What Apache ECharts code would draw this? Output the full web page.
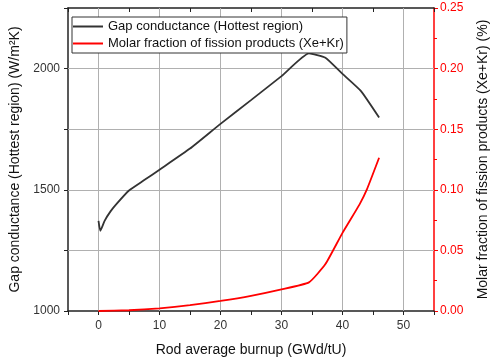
<!DOCTYPE html>
<html>
<head>
<meta charset="utf-8">
<script src="https://cdn.jsdelivr.net/npm/echarts@6/dist/echarts.min.js"></script>
<style>
  html, body { margin: 0; padding: 0; background: #fff; }
  #main { width: 498px; height: 362px; }
</style>
</head>
<body>
<div id="main"></div>
<script>
// gap conductance, hottest region (W/m2K)
var gapBurnup = [0, 0.3, 1, 2, 3, 5, 7.5, 10, 15, 20, 25, 30, 34.5, 37.2, 40, 43, 46];
var gapValue = [1372, 1331, 1372, 1412, 1443, 1497, 1540, 1583, 1670, 1772, 1870, 1969, 2063, 2045, 1978, 1908, 1798];

// molar fraction of fission products Xe+Kr (%)
var fpBurnup = [0, 5, 10, 15, 20, 25, 30, 34.5, 37.2, 40, 42.8, 44, 46];
var fpValue = [0, 0.0006, 0.0022, 0.0048, 0.0083, 0.0125, 0.0178, 0.0236, 0.0387, 0.0645, 0.088, 0.1003, 0.1264];

var xTicks = [0, 10, 20, 30, 40, 50];
var leftTicks = [1000, 1500, 2000];
var leftGrid = [1250, 1500, 1750, 2000];
var xMin = -5, xMax = 55;

var font = "'Liberation Sans', Arial, sans-serif";
var gridColor = '#b0b0b0';

var chart = echarts.init(document.getElementById('main'));

function pairs(xs, ys) {
	var out = [];
	for (var i = 0; i < xs.length; i++) out.push([xs[i], ys[i]]);
	return out;
}

// vertical grid lines at labelled burnup ticks, horizontal every 250
var vLines = [];
for (var k = 0; k < xTicks.length; k++) vLines.push({ xAxis: xTicks[k] });
var hLines = [];
for (var j = 0; j < leftGrid.length; j++) hLines.push({ yAxis: leftGrid[j] });

var option = {
	animation: false,
	textStyle: { fontFamily: font },
	grid: { left: 64, right: 58, top: 8, bottom: 50 },
	legend: {
		left: 72, top: 17,
		orient: 'vertical',
		borderColor: '#333', borderWidth: 1,
		backgroundColor: '#fff',
		padding: [3, 3, 3, 1],
		itemGap: 4,
		itemWidth: 30, itemHeight: 2,
		icon: 'rect',
		z: 10,
		textStyle: { fontSize: 13, color: '#111', fontFamily: font },
		data: ['Gap conductance (Hottest region)', 'Molar fraction of fission products (Xe+Kr)']
	},
	xAxis: [{
		type: 'value', position: 'bottom',
		min: xMin, max: xMax, interval: 5,
		name: 'Rod average burnup (GWd/tU)',
		nameLocation: 'middle', nameGap: 32,
		nameTextStyle: { fontSize: 14, color: '#111' },
		axisLine: { onZero: false, lineStyle: { color: '#222', width: 1.5 } },
		axisTick: { inside: false, length: 4, lineStyle: { color: '#222' } },
		axisLabel: {
			fontSize: 12, color: '#333', margin: 9,
			formatter: function (v) { return xTicks.indexOf(v) >= 0 ? String(v) : ''; }
		},
		splitLine: { show: false }
	}, {
		type: 'value', position: 'top',
		min: xMin, max: xMax, interval: 5,
		axisLine: { onZero: false, lineStyle: { color: '#222', width: 1.5 } },
		axisTick: { inside: true, length: 4, lineStyle: { color: '#222' } },
		axisLabel: { show: false },
		splitLine: { show: false }
	}],
	yAxis: [{
		type: 'value', position: 'left',
		min: 1000, max: 2250, interval: 250,
		name: 'Gap conductance (Hottest region) (W/m²K)',
		nameLocation: 'middle', nameGap: 46,
		nameTextStyle: { fontSize: 14, color: '#111' },
		axisLine: { show: true, onZero: false, lineStyle: { color: '#222', width: 1.5 } },
		axisTick: { show: true, length: 4, lineStyle: { color: '#222' } },
		axisLabel: {
			fontSize: 12, color: '#333', margin: 8,
			formatter: function (v) { return leftTicks.indexOf(v) >= 0 ? String(v) : ''; }
		},
		splitLine: { show: false }
	}, {
		type: 'value', position: 'right',
		min: 0, max: 0.25, interval: 0.05,
		name: 'Molar fraction of fission products (Xe+Kr) (%)',
		nameLocation: 'middle', nameGap: 42, nameRotate: 90,
		nameTextStyle: { fontSize: 14, color: '#111' },
		axisLine: { show: true, onZero: false, lineStyle: { color: '#ff0000', width: 1.5 } },
		axisTick: { show: true, length: 4, lineStyle: { color: '#ff0000' } },
		minorTick: { show: true, splitNumber: 2, length: 3, lineStyle: { color: '#ff0000' } },
		axisLabel: {
			fontSize: 12, color: '#ff0000', margin: 6,
			formatter: function (v) { return v.toFixed(2); }
		},
		splitLine: { show: false }
	}],
	series: [{
		name: 'Gap conductance (Hottest region)',
		type: 'line',
		xAxisIndex: 0, yAxisIndex: 0,
		symbol: 'none',
		smooth: 0.15,
		lineStyle: { color: '#333333', width: 1.8 },
		itemStyle: { color: '#333333' },
		data: pairs(gapBurnup, gapValue),
		markLine: {
			silent: true,
			symbol: 'none',
			animation: false,
			z: 1,
			label: { show: false },
			lineStyle: { color: gridColor, width: 1, type: 'solid' },
			data: vLines.concat(hLines)
		}
	}, {
		name: 'Molar fraction of fission products (Xe+Kr)',
		type: 'line',
		xAxisIndex: 0, yAxisIndex: 1,
		symbol: 'none',
		smooth: 0.15,
		lineStyle: { color: '#ff0000', width: 1.8 },
		itemStyle: { color: '#ff0000' },
		data: pairs(fpBurnup, fpValue)
	}]
};

chart.setOption(option);
window.onresize = chart.resize;
</script>
</body>
</html>
